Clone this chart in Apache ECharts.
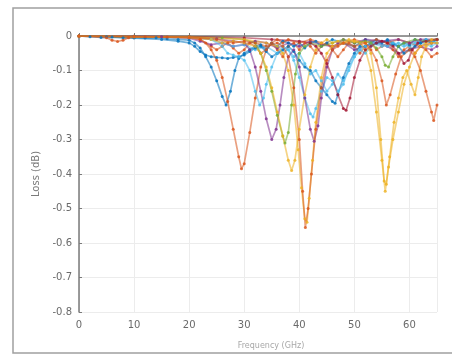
<!DOCTYPE html>
<html>
<head>
<meta charset="utf-8">
<script src="https://cdn.jsdelivr.net/npm/echarts@6/dist/echarts.min.js"></script>
<style>
html,body{margin:0;padding:0;background:#fff;}
#c{width:452px;height:355px;filter:blur(0.5px);}
</style>
</head>
<body>
<div id="c"></div>
<script>
// Tick labels
const xTicks = [0, 10, 20, 30, 40, 50, 60];
const yTicks = [0, -0.1, -0.2, -0.3, -0.4, -0.5, -0.6, -0.7, -0.8];

// Series values as [frequency, loss] pairs
const blueA = [[0,0],[2,-0.002],[4,-0.004],[6,-0.003],[8,-0.005],[10,-0.004],[12,-0.006],[14,-0.005],[16,-0.008],[18,-0.01],[20,-0.012],[21,-0.02],[22,-0.035],[23,-0.06],[24,-0.09],[25,-0.13],[26,-0.175],[26.7,-0.2],[27.5,-0.16],[28.3,-0.1],[29,-0.065],[30,-0.05],[31,-0.04],[32,-0.03],[33,-0.025],[34,-0.04],[35,-0.02],[36,-0.03],[37,-0.015],[38,-0.02],[39,-0.03],[40,-0.02],[41,-0.035],[42,-0.02],[43,-0.015],[44,-0.03],[45,-0.02],[46,-0.01],[48,-0.02],[50,-0.03],[51,-0.02],[52,-0.01],[54,-0.02],[56,-0.015],[57,-0.025],[58,-0.03],[59,-0.02],[60,-0.025],[61,-0.01],[62,-0.02],[63,-0.015],[64,-0.02],[65,-0.01]];
const blueB = [[0,0],[5,-0.002],[10,-0.006],[15,-0.01],[18,-0.015],[20,-0.02],[21,-0.03],[22,-0.045],[23,-0.055],[24,-0.06],[25,-0.062],[26,-0.063],[27,-0.065],[28,-0.062],[29,-0.06],[30,-0.055],[31,-0.045],[32,-0.035],[33,-0.03],[34,-0.045],[35,-0.06],[36,-0.05],[37,-0.04],[38,-0.03],[39,-0.045],[40,-0.07],[41,-0.09],[42,-0.1],[43,-0.13],[44,-0.15],[45,-0.17],[46,-0.19],[46.5,-0.195],[47,-0.17],[48,-0.12],[49,-0.08],[50,-0.05],[51,-0.03],[52,-0.03],[53,-0.02],[54,-0.01],[55,-0.02],[56,-0.01],[57,-0.02],[58,-0.03],[59,-0.05],[60,-0.04],[61,-0.03],[62,-0.02],[63,-0.01],[64,-0.02],[65,-0.01]];
const blueC = [[0,0],[20,-0.004],[24,-0.01],[26,-0.02],[28,-0.03],[30,-0.025],[32,-0.04],[34,-0.03],[36,-0.05],[38,-0.04],[39,-0.06],[40,-0.05],[41,-0.08],[42,-0.11],[43,-0.1],[44,-0.13],[45,-0.16],[46,-0.14],[47,-0.11],[48,-0.13],[49,-0.1],[50,-0.06],[51,-0.04],[52,-0.05],[53,-0.03],[54,-0.02],[56,-0.03],[58,-0.02],[60,-0.03],[62,-0.02],[64,-0.03],[65,-0.02]];
const orangeA = [[0,0],[5,-0.005],[6,-0.012],[7,-0.016],[8,-0.012],[9,-0.005],[12,-0.002],[16,-0.003],[20,-0.005],[22,-0.01],[23,-0.02],[24,-0.04],[25,-0.07],[26,-0.12],[27,-0.19],[28,-0.27],[29,-0.35],[29.5,-0.385],[30,-0.37],[31,-0.28],[32,-0.18],[33,-0.09],[34,-0.04],[35,-0.02],[36,-0.01],[37,-0.02],[38,-0.01],[40,-0.02],[42,-0.01],[44,-0.02],[46,-0.03],[48,-0.02],[50,-0.01],[52,-0.02],[54,-0.01],[56,-0.02],[58,-0.01],[60,-0.02],[62,-0.03],[64,-0.02],[65,-0.02]];
const yellowA = [[0,0],[10,-0.002],[20,-0.004],[24,-0.01],[26,-0.02],[28,-0.015],[30,-0.02],[32,-0.03],[33,-0.05],[34,-0.09],[35,-0.15],[36,-0.22],[37,-0.29],[38,-0.36],[38.6,-0.39],[39.2,-0.36],[40,-0.27],[41,-0.17],[42,-0.09],[43,-0.04],[44,-0.02],[45,-0.01],[46,-0.02],[47,-0.015],[48,-0.02],[49,-0.01],[50,-0.015],[51,-0.02],[52,-0.04],[53,-0.1],[54,-0.22],[55,-0.36],[55.6,-0.45],[56.2,-0.38],[57,-0.3],[58,-0.22],[59,-0.14],[60,-0.09],[61,-0.05],[62,-0.03],[63,-0.02],[64,-0.01],[65,-0.01]];
const purpleA = [[0,0],[10,-0.001],[20,-0.003],[25,-0.008],[28,-0.015],[30,-0.02],[31,-0.04],[32,-0.09],[33,-0.16],[34,-0.24],[35,-0.3],[35.8,-0.27],[36.5,-0.2],[37.2,-0.12],[38,-0.06],[39,-0.04],[40,-0.09],[41,-0.18],[42,-0.27],[42.7,-0.305],[43.4,-0.26],[44,-0.18],[45,-0.09],[46,-0.04],[47,-0.02],[48,-0.01],[50,-0.02],[52,-0.01],[55,-0.015],[58,-0.01],[60,-0.02],[62,-0.01],[65,-0.01]];
const greenA = [[0,0],[10,-0.001],[20,-0.002],[26,-0.005],[30,-0.01],[32,-0.02],[33,-0.05],[34,-0.1],[35,-0.16],[36,-0.23],[37,-0.29],[37.4,-0.31],[38,-0.28],[38.6,-0.2],[39.3,-0.11],[40,-0.05],[41,-0.03],[42,-0.02],[44,-0.03],[46,-0.02],[48,-0.01],[50,-0.02],[52,-0.015],[53,-0.02],[54,-0.035],[55,-0.06],[55.6,-0.085],[56.2,-0.09],[57,-0.06],[58,-0.03],[59,-0.02],[61,-0.01],[63,-0.015],[65,-0.01]];
const cyanA = [[0,0],[10,-0.001],[20,-0.003],[24,-0.01],[26,-0.03],[27,-0.05],[28,-0.055],[29,-0.06],[30,-0.07],[31,-0.1],[32,-0.16],[32.8,-0.2],[33.5,-0.18],[34,-0.14],[35,-0.09],[36,-0.05],[37,-0.03],[38,-0.04],[39,-0.07],[40,-0.12],[41,-0.18],[42,-0.225],[42.5,-0.235],[43,-0.21],[44,-0.16],[45,-0.12],[46,-0.13],[47,-0.16],[48,-0.14],[49,-0.09],[50,-0.06],[51,-0.04],[52,-0.03],[53,-0.02],[55,-0.03],[57,-0.02],[59,-0.03],[61,-0.02],[63,-0.01],[65,-0.02]];
const redA = [[0,0],[10,-0.001],[20,-0.002],[30,-0.005],[35,-0.01],[40,-0.015],[42,-0.02],[43,-0.03],[44,-0.05],[45,-0.08],[46,-0.12],[47,-0.17],[48,-0.21],[48.5,-0.215],[49.2,-0.18],[50,-0.12],[51,-0.07],[52,-0.04],[53,-0.03],[54,-0.02],[55,-0.015],[56,-0.02],[57,-0.03],[58,-0.05],[59,-0.08],[59.8,-0.07],[60.5,-0.04],[61.5,-0.02],[63,-0.015],[65,-0.01]];
const orangeB = [[0,0],[10,-0.002],[20,-0.004],[25,-0.01],[28,-0.02],[30,-0.015],[32,-0.02],[34,-0.03],[36,-0.02],[37,-0.03],[38,-0.06],[39,-0.15],[40,-0.3],[40.6,-0.45],[41.1,-0.555],[41.6,-0.5],[42.2,-0.4],[43,-0.27],[44,-0.15],[45,-0.07],[46,-0.04],[47,-0.03],[48,-0.02],[50,-0.03],[52,-0.02],[53,-0.04],[54,-0.07],[55,-0.13],[55.8,-0.2],[56.5,-0.17],[57.5,-0.11],[58.5,-0.06],[60,-0.04],[61,-0.06],[62,-0.1],[63,-0.16],[64,-0.22],[64.4,-0.245],[65,-0.2]];
const yellowB = [[0,0],[10,-0.002],[20,-0.003],[30,-0.01],[34,-0.02],[36,-0.03],[37,-0.05],[38,-0.1],[39,-0.2],[39.8,-0.33],[40.4,-0.44],[41,-0.53],[41.4,-0.54],[41.8,-0.47],[42.4,-0.36],[43,-0.25],[44,-0.12],[45,-0.05],[46,-0.03],[48,-0.02],[50,-0.015],[52,-0.02],[53,-0.05],[54,-0.15],[54.8,-0.3],[55.4,-0.42],[55.8,-0.43],[56.4,-0.35],[57.2,-0.25],[58,-0.18],[58.8,-0.12],[59.5,-0.1],[60.3,-0.14],[61,-0.17],[61.6,-0.12],[62.2,-0.06],[63,-0.03],[64,-0.02],[65,-0.02]];
const orangeC = [[0,0],[20,-0.003],[22,-0.01],[24,-0.03],[25,-0.04],[26,-0.03],[27,-0.02],[28,-0.035],[29,-0.05],[30,-0.04],[31,-0.02],[32,-0.03],[33,-0.05],[34,-0.04],[35,-0.02],[36,-0.04],[37,-0.06],[38,-0.03],[39,-0.02],[40,-0.04],[41,-0.02],[42,-0.03],[43,-0.05],[44,-0.03],[45,-0.02],[46,-0.04],[47,-0.06],[48,-0.04],[49,-0.02],[50,-0.03],[51,-0.05],[52,-0.03],[53,-0.02],[54,-0.04],[55,-0.03],[56,-0.02],[57,-0.04],[58,-0.06],[59,-0.04],[60,-0.03],[61,-0.05],[62,-0.03],[63,-0.04],[64,-0.06],[65,-0.05]];
const purpleB = [[0,0],[15,-0.002],[20,-0.006],[22,-0.015],[24,-0.025],[26,-0.02],[28,-0.03],[30,-0.025],[32,-0.015],[34,-0.02],[36,-0.035],[38,-0.02],[40,-0.03],[42,-0.015],[44,-0.025],[46,-0.03],[48,-0.02],[50,-0.04],[52,-0.03],[54,-0.02],[56,-0.03],[58,-0.05],[60,-0.04],[62,-0.03],[64,-0.04],[65,-0.03]];

const seriesList = [
  {data: orangeC, color: '#D95319'},
  {data: purpleB, color: '#7E2F8E'},
  {data: blueC, color: '#4DBEEE'},
  {data: blueA, color: '#0072BD'},
  {data: blueB, color: '#0072BD'},
  {data: orangeA, color: '#D95319'},
  {data: cyanA, color: '#4DBEEE'},
  {data: purpleA, color: '#7E2F8E'},
  {data: greenA, color: '#77AC30'},
  {data: yellowA, color: '#EDB120'},
  {data: redA, color: '#A2142F'},
  {data: yellowB, color: '#EDB120'},
  {data: orangeB, color: '#D95319'}
];

const chart = echarts.init(document.getElementById('c'), null, {renderer: 'canvas'});
const axisGray = '#7a7a7a';
chart.setOption({
  animation: false,
  backgroundColor: '#fff',
  graphic: [{
    type: 'rect', z: -1,
    shape: {x: 13, y: 8, width: 450, height: 345},
    style: {fill: 'none', stroke: '#a0a0a0', lineWidth: 1.5}
  }],
  grid: {left: 79, top: 36, right: 15, bottom: 43, containLabel: false},
  xAxis: {
    type: 'value', min: 0, max: 65, interval: 10,
    name: 'Frequency (GHz)', nameLocation: 'middle', nameGap: 30,
    nameTextStyle: {fontSize: 8, color: '#a8a8a8', fontFamily: 'DejaVu Sans', padding: [0,0,0,26]},
    axisLine: {lineStyle: {color: axisGray, width: 1.5}},
    axisTick: {inside: true, length: 3, lineStyle: {color: axisGray}},
    axisLabel: {color: '#6a6a6a', fontSize: 10, fontFamily: 'DejaVu Sans', margin: 8,
      formatter: v => xTicks.includes(v) ? String(v) : ''},
    splitLine: {show: true, lineStyle: {color: '#ececec', width: 1}}
  },
  yAxis: {
    type: 'value', min: -0.8, max: 0, interval: 0.1,
    name: 'Loss (dB)', nameLocation: 'middle', nameGap: 34, nameRotate: 90,
    nameTextStyle: {fontSize: 10, color: '#7a7a7a', fontFamily: 'DejaVu Sans'},
    axisLine: {show: true, lineStyle: {color: axisGray, width: 1.5}},
    axisTick: {show: true, inside: true, length: 3, lineStyle: {color: axisGray}},
    axisLabel: {color: '#6a6a6a', fontSize: 10, fontFamily: 'DejaVu Sans', margin: 7,
      formatter: v => { const t = yTicks.find(k => Math.abs(k - v) < 1e-9); return t === undefined ? '' : (t === 0 ? '0' : t.toFixed(1)); }},
    splitLine: {show: true, lineStyle: {color: '#ececec', width: 1}}
  },
  series: seriesList.map(s => ({
    type: 'line',
    data: s.data,
    symbol: 'circle',
    symbolSize: 3,
    showSymbol: true,
    lineStyle: {color: s.color, width: 1.7, opacity: 0.55},
    itemStyle: {color: s.color, opacity: 0.8},
    emphasis: {disabled: true}
  }))
});
</script>
</body>
</html>
